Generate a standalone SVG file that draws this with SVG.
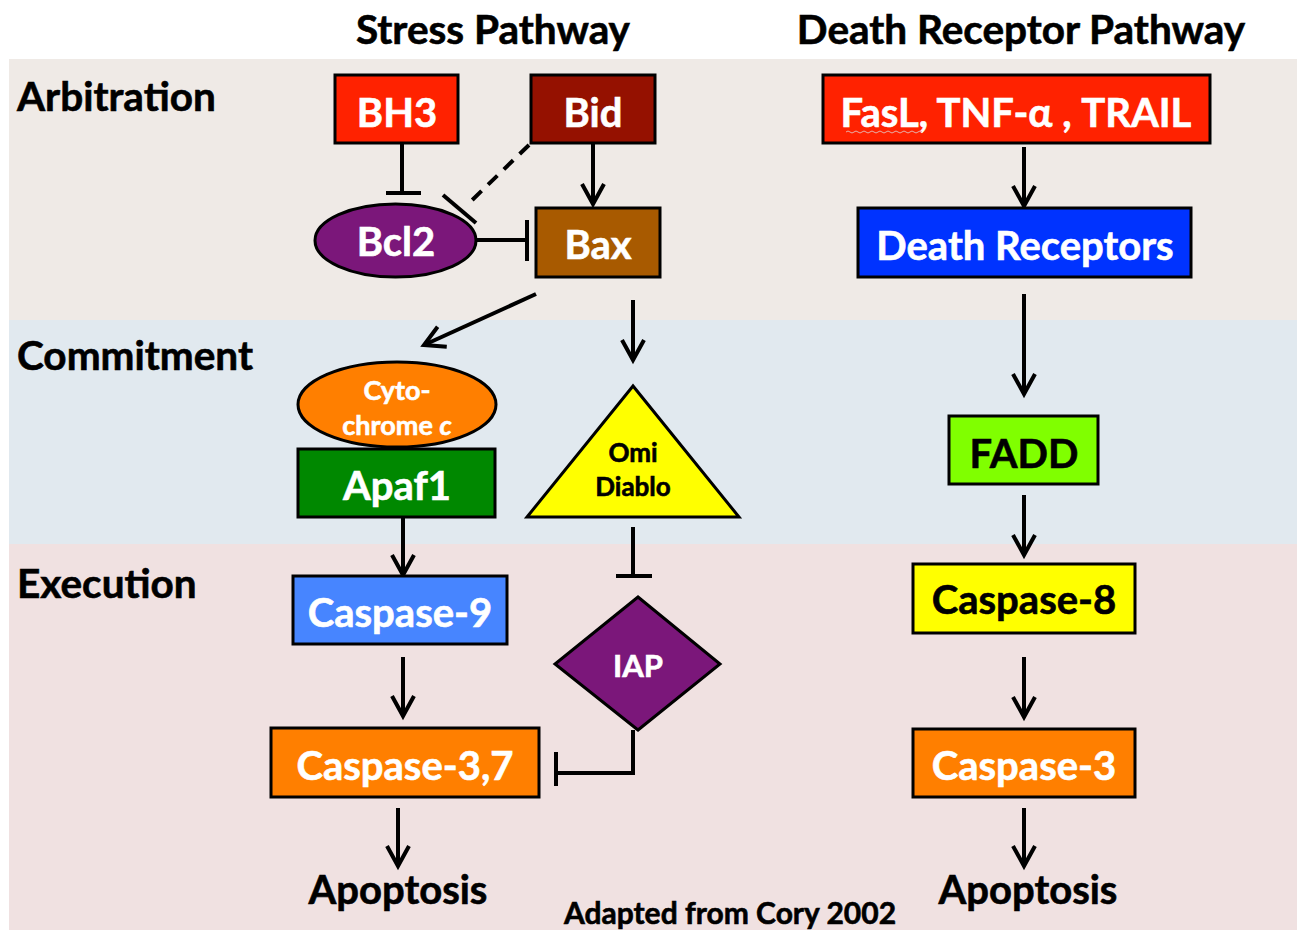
<svg xmlns="http://www.w3.org/2000/svg" width="1297" height="930" viewBox="0 0 1297 930">
<defs>
<style>
text{font-family:Lato,"Open Sans","Liberation Sans",sans-serif;font-weight:bold;text-anchor:middle;stroke-width:0.6px}
.w{fill:#fff;stroke:#fff}
.k{fill:#000;stroke:#000}
.box{stroke:#000;stroke-width:3}
.lbl{text-anchor:start;font-size:40.5px}
.nl{font-size:40px}
.ln{fill:none;stroke:#000;stroke-width:4}
</style>
<marker id="arr" markerUnits="userSpaceOnUse" markerWidth="40" markerHeight="40" viewBox="-30 -20 40 40" refX="0" refY="0" orient="auto" overflow="visible"><path d="M-20,-11 L0,0 L-20,11" fill="none" stroke="#000" stroke-width="4"/></marker>
</defs>
<rect x="0" y="0" width="1297" height="930" fill="#fff"/>
<g id="bands">
<rect x="9" y="59" width="1288" height="261" fill="#EFEAE6"/>
<rect x="9" y="320" width="1288" height="224" fill="#E1E9EF"/>
<rect x="9" y="544" width="1288" height="386" fill="#F0E1E1"/>
</g>
<g id="titles">
<text x="493" y="44" class="k" font-size="40.5">Stress Pathway</text>
<text x="1021" y="44" class="k" font-size="40.5">Death Receptor Pathway</text>
<text x="17" y="111" class="k lbl">Arbitration</text>
<text x="17" y="370" class="k lbl">Commitment</text>
<text x="17" y="598" class="k lbl">Execution</text>
</g>
<g id="connectors">
<line class="ln" x1="402" y1="143" x2="402" y2="193"/><line class="ln" x1="386" y1="193" x2="421" y2="193"/>
<line class="ln" x1="593" y1="143" x2="593" y2="204" marker-end="url(#arr)"/>
<line class="ln" x1="529" y1="145" x2="466" y2="206" stroke-dasharray="13,9"/><line class="ln" x1="443" y1="195" x2="476" y2="223"/>
<line class="ln" x1="476" y1="240" x2="527" y2="240"/><line class="ln" x1="527" y1="220" x2="527" y2="261"/>
<line class="ln" x1="536" y1="294" x2="424" y2="345" marker-end="url(#arr)"/>
<line class="ln" x1="633" y1="300" x2="633" y2="360" marker-end="url(#arr)"/>
<line class="ln" x1="403" y1="517" x2="403" y2="575" marker-end="url(#arr)"/>
<line class="ln" x1="633" y1="527" x2="633" y2="576"/><line class="ln" x1="616" y1="576" x2="652" y2="576"/>
<line class="ln" x1="403" y1="657" x2="403" y2="716" marker-end="url(#arr)"/>
<polyline class="ln" points="633,730 633,773 556,773"/><line class="ln" x1="556" y1="752" x2="556" y2="786"/>
<line class="ln" x1="398" y1="808" x2="398" y2="866" marker-end="url(#arr)"/>
<line class="ln" x1="1024" y1="147" x2="1024" y2="206" marker-end="url(#arr)"/>
<line class="ln" x1="1024" y1="294" x2="1024" y2="394" marker-end="url(#arr)"/>
<line class="ln" x1="1024" y1="495" x2="1024" y2="555" marker-end="url(#arr)"/>
<line class="ln" x1="1024" y1="657" x2="1024" y2="717" marker-end="url(#arr)"/>
<line class="ln" x1="1024" y1="808" x2="1024" y2="866" marker-end="url(#arr)"/>
</g>
<g id="bh3"><rect class="box" x="335" y="75" width="123" height="68" fill="#FF2200"/><text x="397" y="127" class="w nl">BH3</text></g>
<g id="bid"><rect class="box" x="531" y="75" width="124" height="68" fill="#951100"/><text x="593" y="127" class="w nl">Bid</text></g>
<g id="bcl2"><ellipse class="box" cx="395.5" cy="240.5" rx="80.5" ry="36.5" fill="#7B177A"/><text x="396" y="256" class="w nl">Bcl2</text></g>
<g id="bax"><rect class="box" x="536" y="208" width="124" height="69" fill="#A85A00"/><text x="598" y="259" class="w nl">Bax</text></g>
<g id="fasl"><rect class="box" x="823" y="75" width="387" height="68" fill="#FF2200"/><text x="1016" y="127" class="w nl">FasL, TNF-α , TRAIL</text>
<path d="M846,132 q2,-2 4,0 t4,0 t4,0 t4,0 t4,0 t4,0 t4,0 t4,0 t4,0 t4,0 t4,0 t4,0 t4,0 t4,0 t4,0 t4,0 t4,0 t4,0 t4,0" fill="none" stroke="#E8B0A8" stroke-width="1"/></g>
<g id="death-receptors"><rect class="box" x="858" y="208" width="333" height="69" fill="#0033FF"/><text x="1025" y="260" class="w nl">Death Receptors</text></g>
<g id="cytochrome"><ellipse class="box" cx="397" cy="404.5" rx="99" ry="42.5" fill="#FF7F00"/><text x="397" y="400" class="w" font-size="27">Cyto-</text><text x="397" y="435" class="w" font-size="27">chrome <tspan font-style="italic">c</tspan></text></g>
<g id="apaf1"><rect class="box" x="298" y="449" width="197" height="68" fill="#008800"/><text x="397" y="500" class="w nl">Apaf1</text></g>
<g id="omi-diablo"><polygon class="box" points="633,386 527,517 739,517" fill="#FFFF00"/><text x="633" y="462" class="k" font-size="26">Omi</text><text x="633" y="496" class="k" font-size="26">Diablo</text></g>
<g id="caspase-9"><rect class="box" x="293" y="576" width="214" height="68" fill="#4785FF"/><text x="400" y="627" class="w nl">Caspase-9</text></g>
<g id="iap"><polygon class="box" points="638,597 720,664 638,730 555,664" fill="#7B177A"/><text x="638" y="677" class="w" font-size="31">IAP</text></g>
<g id="caspase-37"><rect class="box" x="271" y="728" width="268" height="69" fill="#FF7F00"/><text x="405" y="780" class="w nl">Caspase-3,7</text></g>
<g id="apoptosis-left"><text x="398" y="904" class="k nl">Apoptosis</text></g>
<g id="fadd"><rect class="box" x="949" y="416" width="149" height="68" fill="#80FF00"/><text x="1024" y="468" class="k nl">FADD</text></g>
<g id="caspase-8"><rect class="box" x="913" y="564" width="222" height="69" fill="#FFFF00"/><text x="1024" y="614" class="k nl">Caspase-8</text></g>
<g id="caspase-3"><rect class="box" x="913" y="729" width="222" height="68" fill="#FF7F00"/><text x="1024" y="780" class="w nl">Caspase-3</text></g>
<g id="apoptosis-right"><text x="1028" y="904" class="k nl">Apoptosis</text></g>
<g id="credit"><text x="730" y="924" class="k" font-size="30">Adapted from Cory 2002</text></g>
</svg>
